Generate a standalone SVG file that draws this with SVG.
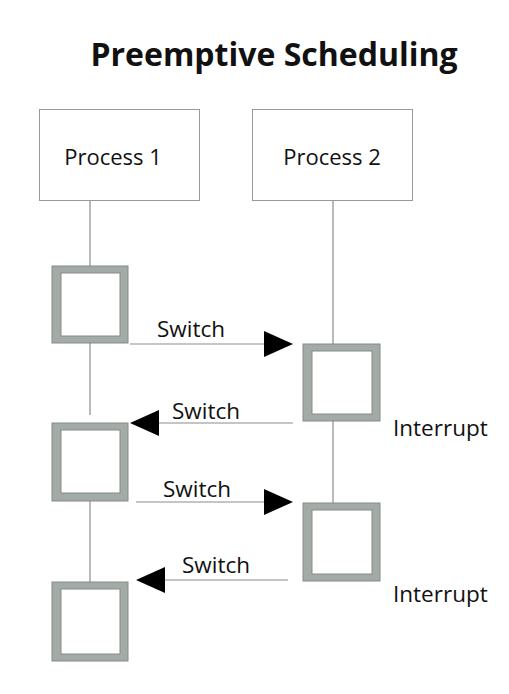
<svg xmlns="http://www.w3.org/2000/svg" width="509" height="694" viewBox="0 0 509 694">
<style>
.t{font-family:"Open Sans","DejaVu Sans",sans-serif;fill:#111}
.hdr{fill:#fff;stroke:#999;stroke-width:1}
.life{stroke:#8c8c8c;stroke-width:1.2;fill:none}
.act-o{fill:#a2aba5;stroke:#858c87;stroke-width:1}
.act-i{fill:#fff;stroke:#858c87;stroke-width:1}
.msg{stroke:#8c8c8c;stroke-width:1.2;fill:none}
.head{fill:#000}
.lbl{font-size:22.5px}
</style>
<rect width="509" height="694" fill="#fff"/>
<text class="t" x="274" y="66" font-size="32" font-weight="bold" text-anchor="middle">Preemptive Scheduling</text>
<g id="connectors">
<line class="life" x1="90" y1="201" x2="90" y2="266"/>
<line class="life" x1="90" y1="343" x2="90" y2="415"/>
<line class="life" x1="90" y1="501" x2="90" y2="582"/>
<line class="life" x1="333" y1="201" x2="333" y2="344"/>
<line class="life" x1="333" y1="421" x2="333" y2="503"/>
<g id="msg1"><line class="msg" x1="130" y1="344" x2="265" y2="344"/><polygon class="head" points="264,331 293,344 264,357"/><text class="t lbl" x="191" y="337" text-anchor="middle">Switch</text></g>
<g id="msg2"><line class="msg" x1="293" y1="423" x2="158" y2="423"/><polygon class="head" points="159,410 130,423 159,436"/><text class="t lbl" x="206" y="419" text-anchor="middle">Switch</text></g>
<g id="msg3"><line class="msg" x1="136" y1="502" x2="265" y2="502"/><polygon class="head" points="264,489 293,502 264,515"/><text class="t lbl" x="197" y="497" text-anchor="middle">Switch</text></g>
<g id="msg4"><line class="msg" x1="288" y1="580" x2="164" y2="580"/><polygon class="head" points="165,567 136,580 165,593"/><text class="t lbl" x="216" y="573" text-anchor="middle">Switch</text></g>
</g>
<g id="process1"><rect class="hdr" x="39.5" y="109.5" width="160" height="91"/><text class="t" x="113" y="165" font-size="22" text-anchor="middle">Process 1</text></g>
<g id="process2"><rect class="hdr" x="252.5" y="109.5" width="160" height="91"/><text class="t" x="332" y="165" font-size="22" text-anchor="middle">Process 2</text></g>
<g id="act1"><rect class="act-o" x="52" y="266" width="76" height="77"/><rect class="act-i" x="61" y="273" width="59" height="63"/></g>
<g id="act2"><rect class="act-o" x="303" y="344" width="77" height="77"/><rect class="act-i" x="312" y="351" width="60" height="63"/></g>
<g id="act3"><rect class="act-o" x="52" y="423" width="76" height="78"/><rect class="act-i" x="61" y="430" width="59" height="63"/></g>
<g id="act4"><rect class="act-o" x="303" y="503" width="77" height="78"/><rect class="act-i" x="312" y="510" width="60" height="64"/></g>
<g id="act5"><rect class="act-o" x="52" y="582" width="76" height="79"/><rect class="act-i" x="61" y="589" width="59" height="65"/></g>
<g id="interrupt1"><text class="t lbl" x="393" y="436">Interrupt</text></g>
<g id="interrupt2"><text class="t lbl" x="393" y="602">Interrupt</text></g>
</svg>
